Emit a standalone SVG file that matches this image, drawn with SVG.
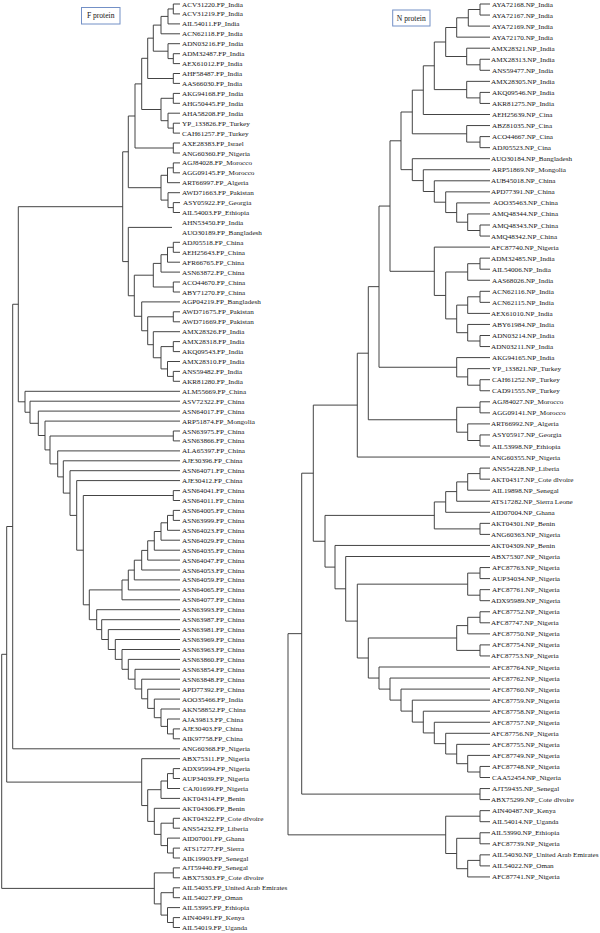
<svg xmlns="http://www.w3.org/2000/svg" width="600" height="933" viewBox="0 0 600 933">
<style>
.e{fill:none;stroke:#3a3a3a;stroke-width:0.95}
text{font-family:"Liberation Serif","Times New Roman",serif;font-size:7.15px;fill:#151515}
.bx{fill:#fff;stroke:#7390c6;stroke-width:1}
.bt{font-size:7.6px;text-anchor:middle}
</style>
<rect width="600" height="933" fill="#fff"/>
<g id="legend-f"><rect class="bx" x="81.5" y="7.5" width="38.5" height="16.5"/><text class="bt" x="100.7" y="18.3">F protein</text></g>
<g id="legend-n"><rect class="bx" x="392.7" y="10" width="37.3" height="16"/><text class="bt" x="411.3" y="20.6">N protein</text></g>
<g id="connectors">
<path class="e" d="M180 4H173.3V13.9H180M173.3 8.95H168V23.9H180M168 16.4H161V33.8H180M180 53.7H173.3V63.6H180M180 43.7H168V58.6H173.3M161 25.1H153.3V51.2H168M180 73.5H173.3V83.4H180M153.3 38.15H147.7V78.5H173.3M180 93.4H173.3V103.3H180M180 123.2H173.3V133.1H180M180 113.2H168V128.1H173.3M173.3 98.3H161V120.7H168M147.7 58.3H141.7V109.5H161M180 143H173.3V153H180M141.7 83.9H135V148H173.3M180 162.9H173.3V172.8H180M173.3 167.85H167.5V182.7H180M180 202.6H173.3V212.5H180M180 192.7H168V207.6H173.3M167.5 175.3H161V200.1H168M135 116H128.3V187.7H161"/>
<path class="e" d="M180 242.3H173.3V252.3H180M173.3 247.3H167.5V262.2H180M167.5 254.7H161V272.1H180M180 282H173.3V292H180M161 263.4H153.3V287H173.3M180 311.8H173.3V321.8H180M180 371.4H173.3V381.3H180M180 361.5H167.5V376.4H173.3M180 341.6H173.3V351.6H180M173.3 346.6H161V368.9H167.5M180 331.7H153.3V357.75H161M173.3 316.8H147.7V344.7H153.3M180 301.9H141.7V330.75H147.7M153.3 275.2H134.3V316.3H141.7M172 227.4H128.3V295.75H134.3M128.3 151.8H122.7V261.6H128.3"/>
<path class="e" d="M180 431H173.3V440.9H180M180 490.6H173.3V500.5H180M180 510.4H173.3V520.4H180M173.3 515.4H167.5V530.3H180M167.5 522.8H161V540.2H180M161 531.5H154.3V550.2H180M154.3 540.8H147.7V560.1H180M147.7 550.4H141.7V570H180M141.7 560.2H134.3V579.9H180M134.3 570.1H128.3V589.9H180M128.3 580H122V599.8H180"/>
<path class="e" d="M180 728.9H173.3V738.8H180M180 719H167.5V733.9H173.3M180 709H161V726.4H167.5M180 699.1H154.3V717.7H161M180 689.2H147.7V708.4H154.3M180 679.2H141.7V698.8H147.7M180 669.3H135V689H141.7M180 659.4H128.3V679.2H135M180 649.5H122V669.3H128.3M180 639.5H115.3V659.4H122M180 629.6H108.3V649.5H115.3M180 619.7H101.7V639.5H108.3M180 609.7H96.7V629.6H101.7"/>
<path class="e" d="M122 589.9H89.3V619.7H96.7M173.3 495.5H83.3V604.8H89.3M180 480.6H76.7V550.2H83.3M180 470.7H70V515.4H76.7M180 460.8H63.3V493.1H70M180 450.9H57.7V476.9H63.3M173.3 436H50V463.9H57.7M180 421.1H45V449.9H50M180 411.1H38.3V435.5H45M180 401.2H30V423.3H38.3M180 391.3H25V412.25H30M122.7 206.7H18.3V401.8H25M18.3 304.25H12.7V748.8H180"/>
<path class="e" d="M180 768.6H173.3V778.5H180M173.3 773.6H167.5V788.5H180M167.5 781H161V798.4H180M180 818.3H173.3V828.2H180M180 848.1H173.3V858H180M180 838.1H167.5V853H173.3M173.3 823.2H161V845.6H167.5M180 808.3H154.3V834.4H161M161 789.7H147.7V821.4H154.3M180 758.7H141.7V805.55H147.7M12.7 526.5H6.7V782.1H141.7M180 867.9H173.3V877.8H180M180 887.8H173.3V897.7H180M180 917.6H173.3V927.5H180M180 907.6H167.5V922.5H173.3M173.3 892.7H161V915.1H167.5M173.3 872.9H154.3V903.9H161M6.7 654.3H1.7V888.4H154.3"/>
<path class="e" d="M490 4H480V15.05H490M480 9.5H468.3V26.1H490M468.3 17.8H456.7V37.15H490M490 59.25H480V70.3H490M490 48.2H466.7V64.8H480M456.7 27.5H445.7V56.5H466.7M490 92.4H480V103.45H490M490 81.35H466.7V97.9H480M445.7 42H434.3V89.6H466.7M434.3 65.8H423.3V114.5H490M490 136.6H480V147.65H490M490 125.55H466.7V142.1H480M423.3 90.15H412.3V133.8H466.7"/>
<path class="e" d="M490 225H480V236.05H490M490 213.95H467.7V230.5H480M490 202.9H456.7V222.2H467.7M490 191.85H445.7V212.55H456.7M490 180.8H434.3V202.2H445.7M490 169.75H423.3V191.5H434.3M490 158.7H412.3V180.6H423.3M412.3 112H401V169.65H412.3"/>
<path class="e" d="M490 258.15H480V269.2H490M480 263.7H467.7V280.25H490M490 291.3H480V302.35H490M480 296.8H467.7V313.4H490M490 335.5H480V346.55H490M490 324.45H467.7V341H480M467.7 305.1H456.7V332.7H467.7M467.7 272H445.7V318.9H456.7M490 247.1H434.3V295.45H445.7M401 140.8H390V271.3H434.3M490 379.7H480V390.75H490M490 368.65H467.7V385.2H480M490 357.6H456.7V376.9H467.7M390 206.05H379V367.25H456.7M490 401.8H480V412.85H490M490 434.95H480V446H490M490 423.9H467.7V440.5H480M480 407.3H456.7V432.2H467.7M379 286.65H368.3V419.75H456.7M368.3 353.2H357.3V457.05H490"/>
<path class="e" d="M490 468.1H480V479.15H490M480 473.6H467.7V490.2H490M467.7 481.9H456.7V501.25H490M456.7 491.6H445.7V512.3H490M490 523.35H480V534.4H490M445.7 501.95H434.3V528.9H480M490 567.55H480V578.6H490M490 589.65H480V600.7H490M480 573.1H467.7V595.2H480M490 611.75H480V622.8H490M480 617.3H467.7V633.85H490M490 644.9H480V655.95H490M467.7 625.6H456.7V650.4H480"/>
<path class="e" d="M490 766.45H480V777.5H490M490 755.4H467.7V772H480M490 744.35H456.7V763.7H467.7M490 733.3H445.7V754H456.7M490 722.25H434.3V743.65H445.7M490 711.2H423.3V732.95H434.3M490 700.15H412.3V722.1H423.3M490 689.1H401V711.1H412.3M490 678.05H390V700.1H401M490 667H379V689.1H390M456.7 638H368.3V678.05H379M467.7 584.15H357.3V658H368.3M490 556.5H345.7V621.1H357.3M490 545.45H335V588.8H345.7M434.3 515.4H325V567.1H335M357.3 405.1H313.3V541.25H325"/>
<path class="e" d="M490 788.55H480V799.6H490M313.3 473.2H301.7V794.1H480M490 810.65H480V821.7H490M490 832.75H480V843.8H490M490 854.85H480V865.9H490M480 860.4H467.7V876.95H490M480 838.3H456.7V868.7H467.7M480 816.2H445.7V853.5H456.7M301.7 633.65H288V834.85H445.7"/>
</g>
<g id="f-leaves">
<g id="f1"><text x="182" y="6.5">ACV31220.FP_India</text></g>
<g id="f2"><text x="182" y="16.4">ACV31219.FP_India</text></g>
<g id="f3"><text x="182" y="26.4">AIL54011.FP_India</text></g>
<g id="f4"><text x="182" y="36.3">ACN62118.FP_India</text></g>
<g id="f5"><text x="182" y="46.2">ADN03216.FP_India</text></g>
<g id="f6"><text x="182" y="56.2">ADM32487.FP_India</text></g>
<g id="f7"><text x="182" y="66.1">AEX61012.FP_India</text></g>
<g id="f8"><text x="182" y="76">AHF58487.FP_India</text></g>
<g id="f9"><text x="182" y="85.9">AAS66030.FP_India</text></g>
<g id="f10"><text x="182" y="95.9">AKG94168.FP_India</text></g>
<g id="f11"><text x="182" y="105.8">AHG50445.FP_India</text></g>
<g id="f12"><text x="182" y="115.7">AHA58208.FP_India</text></g>
<g id="f13"><text x="182" y="125.7">YP_133826.FP_Turkey</text></g>
<g id="f14"><text x="182" y="135.6">CAH61257.FP_Turkey</text></g>
<g id="f15"><text x="182" y="145.5">AXE28383.FP_Israel</text></g>
<g id="f16"><text x="182" y="155.5">ANG60360.FP_Nigeria</text></g>
<g id="f17"><text x="182" y="165.4">AGJ84028.FP_Morocco</text></g>
<g id="f18"><text x="182" y="175.3">AGG09145.FP_Morocco</text></g>
<g id="f19"><text x="182" y="185.2">ART66997.FP_Algeria</text></g>
<g id="f20"><text x="182" y="195.2">AWD71663.FP_Pakistan</text></g>
<g id="f21"><text x="183" y="205.1">ASY05922.FP_Georgia</text></g>
<g id="f22"><text x="182" y="215">AIL54003.FP_Ethiopia</text></g>
<g id="f23"><text x="182" y="225">AHN53450.FP_India</text></g>
<g id="f24"><text x="182" y="234.9">AUO30189.FP_Bangladesh</text></g>
<g id="f25"><text x="182" y="244.8">ADJ05518.FP_China</text></g>
<g id="f26"><text x="182" y="254.8">AEH25643.FP_China</text></g>
<g id="f27"><text x="182" y="264.7">AFR66765.FP_China</text></g>
<g id="f28"><text x="182" y="274.6">ASN63872.FP_China</text></g>
<g id="f29"><text x="182" y="284.5">ACO44670.FP_China</text></g>
<g id="f30"><text x="182" y="294.5">ABY71270.FP_China</text></g>
<g id="f31"><text x="182" y="304.4">AGP04219.FP_Bangladesh</text></g>
<g id="f32"><text x="182" y="314.3">AWD71675.FP_Pakistan</text></g>
<g id="f33"><text x="182" y="324.3">AWD71669.FP_Pakistan</text></g>
<g id="f34"><text x="182" y="334.2">AMX28326.FP_India</text></g>
<g id="f35"><text x="182" y="344.1">AMX28318.FP_India</text></g>
<g id="f36"><text x="182" y="354.1">AKQ09543.FP_India</text></g>
<g id="f37"><text x="182" y="364">AMX28310.FP_India</text></g>
<g id="f38"><text x="182" y="373.9">ANS59482.FP_India</text></g>
<g id="f39"><text x="182" y="383.8">AKR81280.FP_India</text></g>
<g id="f40"><text x="182" y="393.8">ALM55669.FP_China</text></g>
<g id="f41"><text x="182" y="403.7">ASV72322.FP_China</text></g>
<g id="f42"><text x="182" y="413.6">ASN64017.FP_China</text></g>
<g id="f43"><text x="182" y="423.6">ARP51874.FP_Mongolia</text></g>
<g id="f44"><text x="182" y="433.5">ASN63975.FP_China</text></g>
<g id="f45"><text x="182" y="443.4">ASN63866.FP_China</text></g>
<g id="f46"><text x="182" y="453.4">ALA65397.FP_China</text></g>
<g id="f47"><text x="182" y="463.3">AJE30396.FP_China</text></g>
<g id="f48"><text x="182" y="473.2">ASN64071.FP_China</text></g>
<g id="f49"><text x="182" y="483.1">AJE30412.FP_China</text></g>
<g id="f50"><text x="182" y="493.1">ASN64041.FP_China</text></g>
<g id="f51"><text x="182" y="503">ASN64011.FP_China</text></g>
<g id="f52"><text x="182" y="512.9">ASN64005.FP_China</text></g>
<g id="f53"><text x="182" y="522.9">ASN63999.FP_China</text></g>
<g id="f54"><text x="182" y="532.8">ASN64023.FP_China</text></g>
<g id="f55"><text x="182" y="542.7">ASN64029.FP_China</text></g>
<g id="f56"><text x="182" y="552.7">ASN64035.FP_China</text></g>
<g id="f57"><text x="182" y="562.6">ASN64047.FP_China</text></g>
<g id="f58"><text x="182" y="572.5">ASN64053.FP_China</text></g>
<g id="f59"><text x="182" y="582.4">ASN64059.FP_China</text></g>
<g id="f60"><text x="182" y="592.4">ASN64065.FP_China</text></g>
<g id="f61"><text x="182" y="602.3">ASN64077.FP_China</text></g>
<g id="f62"><text x="182" y="612.2">ASN63993.FP_China</text></g>
<g id="f63"><text x="182" y="622.2">ASN63987.FP_China</text></g>
<g id="f64"><text x="182" y="632.1">ASN63981.FP_China</text></g>
<g id="f65"><text x="182" y="642">ASN63969.FP_China</text></g>
<g id="f66"><text x="182" y="652">ASN63963.FP_China</text></g>
<g id="f67"><text x="182" y="661.9">ASN63860.FP_China</text></g>
<g id="f68"><text x="182" y="671.8">ASN63854.FP_China</text></g>
<g id="f69"><text x="182" y="681.7">ASN63848.FP_China</text></g>
<g id="f70"><text x="182" y="691.7">APD77392.FP_China</text></g>
<g id="f71"><text x="182" y="701.6">AOO35466.FP_India</text></g>
<g id="f72"><text x="182" y="711.5">AKN58852.FP_China</text></g>
<g id="f73"><text x="182" y="721.5">AJA39813.FP_China</text></g>
<g id="f74"><text x="182" y="731.4">AJE30403.FP_China</text></g>
<g id="f75"><text x="182" y="741.3">AIK97758.FP_China</text></g>
<g id="f76"><text x="182" y="751.3">ANG60368.FP_Nigeria</text></g>
<g id="f77"><text x="182" y="761.2">ABX75311.FP_Nigeria</text></g>
<g id="f78"><text x="182" y="771.1">ADX95994.FP_Nigeria</text></g>
<g id="f79"><text x="182" y="781">AUP34039.FP_Nigeria</text></g>
<g id="f80"><text x="183" y="791">CAJ01699.FP_Nigeria</text></g>
<g id="f81"><text x="182" y="800.9">AKT04314.FP_Benin</text></g>
<g id="f82"><text x="182" y="810.8">AKT04306.FP_Benin</text></g>
<g id="f83"><text x="182" y="820.8">AKT04322.FP_Cote dlvoire</text></g>
<g id="f84"><text x="182" y="830.7">ANS54232.FP_Liberia</text></g>
<g id="f85"><text x="182" y="840.6">AID07001.FP_Ghana</text></g>
<g id="f86"><text x="183" y="850.6">ATS17277.FP_Sierra</text></g>
<g id="f87"><text x="182" y="860.5">AIK19903.FP_Senegal</text></g>
<g id="f88"><text x="182" y="870.4">AJT59440.FP_Senegal</text></g>
<g id="f89"><text x="182" y="880.3">ABX75303.FP_Cote dlvoire</text></g>
<g id="f90"><text x="182" y="890.3">AIL54035.FP_United Arab Emirates</text></g>
<g id="f91"><text x="182" y="900.2">AIL54027.FP_Oman</text></g>
<g id="f92"><text x="182" y="910.1">AIL53995.FP_Ethiopia</text></g>
<g id="f93"><text x="182" y="920.1">AIN40491.FP_Kenya</text></g>
<g id="f94"><text x="182" y="930">AIL54019.FP_Uganda</text></g>
</g>
<g id="n-leaves">
<g id="n1"><text x="492" y="6.5">AYA72168.NP_India</text></g>
<g id="n2"><text x="492" y="17.55">AYA72167.NP_India</text></g>
<g id="n3"><text x="492" y="28.6">AYA72169.NP_India</text></g>
<g id="n4"><text x="492" y="39.65">AYA72170.NP_India</text></g>
<g id="n5"><text x="491" y="50.7">AMX28321.NP_India</text></g>
<g id="n6"><text x="491" y="61.75">AMX28313.NP_India</text></g>
<g id="n7"><text x="492" y="72.8">ANS59477.NP_India</text></g>
<g id="n8"><text x="491" y="83.85">AMX28305.NP_India</text></g>
<g id="n9"><text x="492" y="94.9">AKQ09546.NP_India</text></g>
<g id="n10"><text x="492" y="105.95">AKR81275.NP_India</text></g>
<g id="n11"><text x="492" y="117">AEH25639.NP_Cina</text></g>
<g id="n12"><text x="492" y="128.05">ABZ81035.NP_Cina</text></g>
<g id="n13"><text x="492" y="139.1">ACO44667.NP_Cina</text></g>
<g id="n14"><text x="492" y="150.15">ADJ05523.NP_Cina</text></g>
<g id="n15"><text x="491" y="161.2">AUO30184.NP_Bangladesh</text></g>
<g id="n16"><text x="492" y="172.25">ARP51869.NP_Mongolia</text></g>
<g id="n17"><text x="491" y="183.3">AUB45018.NP_China</text></g>
<g id="n18"><text x="491" y="194.35">APD77391.NP_China</text></g>
<g id="n19"><text x="493" y="205.4">AOO35463.NP_China</text></g>
<g id="n20"><text x="492" y="216.45">AMQ48344.NP_China</text></g>
<g id="n21"><text x="492" y="227.5">AMQ48343.NP_China</text></g>
<g id="n22"><text x="491" y="238.55">AMQ48342.NP_China</text></g>
<g id="n23"><text x="491" y="249.6">AFC87740.NP_Nigeria</text></g>
<g id="n24"><text x="491" y="260.65">ADM32485.NP_India</text></g>
<g id="n25"><text x="492" y="271.7">AIL54006.NP_India</text></g>
<g id="n26"><text x="492" y="282.75">AAS68026.NP_India</text></g>
<g id="n27"><text x="492" y="293.8">ACN62116.NP_India</text></g>
<g id="n28"><text x="492" y="304.85">ACN62115.NP_India</text></g>
<g id="n29"><text x="491" y="315.9">AEX61010.NP_India</text></g>
<g id="n30"><text x="492" y="326.95">ABY61984.NP_India</text></g>
<g id="n31"><text x="492" y="338">ADN03214.NP_India</text></g>
<g id="n32"><text x="491" y="349.05">ADN03211.NP_India</text></g>
<g id="n33"><text x="492" y="360.1">AKG94165.NP_India</text></g>
<g id="n34"><text x="492" y="371.15">YP_133821.NP_Turkey</text></g>
<g id="n35"><text x="492" y="382.2">CAH61252.NP_Turkey</text></g>
<g id="n36"><text x="492" y="393.25">CAD91555.NP_Turkey</text></g>
<g id="n37"><text x="492" y="404.3">AGJ84027.NP_Morocco</text></g>
<g id="n38"><text x="492" y="415.35">AGG09141.NP_Morocco</text></g>
<g id="n39"><text x="491" y="426.4">ART66992.NP_Algeria</text></g>
<g id="n40"><text x="492" y="437.45">ASY05917.NP_Georgia</text></g>
<g id="n41"><text x="492" y="448.5">AIL53998.NP_Ethiopia</text></g>
<g id="n42"><text x="491" y="459.55">ANG60355.NP_Nigeria</text></g>
<g id="n43"><text x="492" y="470.6">ANS54228.NP_Liberia</text></g>
<g id="n44"><text x="491" y="481.65">AKT04317.NP_Cote dlvoire</text></g>
<g id="n45"><text x="492" y="492.7">AIL19898.NP_Senegal</text></g>
<g id="n46"><text x="491" y="503.75">ATS17282.NP_Sierra Leone</text></g>
<g id="n47"><text x="491" y="514.8">AID07004.NP_Ghana</text></g>
<g id="n48"><text x="491" y="525.85">AKT04301.NP_Benin</text></g>
<g id="n49"><text x="491" y="536.9">ANG60363.NP_Nigeria</text></g>
<g id="n50"><text x="491" y="547.95">AKT04309.NP_Benin</text></g>
<g id="n51"><text x="491" y="559">ABX75307.NP_Nigeria</text></g>
<g id="n52"><text x="492" y="570.05">AFC87763.NP_Nigeria</text></g>
<g id="n53"><text x="492" y="581.1">AUP34034.NP_Nigeria</text></g>
<g id="n54"><text x="492" y="592.15">AFC87761.NP_Nigeria</text></g>
<g id="n55"><text x="491" y="603.2">ADX95989.NP_Nigeria</text></g>
<g id="n56"><text x="492" y="614.25">AFC87752.NP_Nigeria</text></g>
<g id="n57"><text x="491" y="625.3">AFC87747.NP_Nigeria</text></g>
<g id="n58"><text x="492" y="636.35">AFC87750.NP_Nigeria</text></g>
<g id="n59"><text x="492" y="647.4">AFC87754.NP_Nigeria</text></g>
<g id="n60"><text x="491" y="658.45">AFC87753.NP_Nigeria</text></g>
<g id="n61"><text x="492" y="669.5">AFC87764.NP_Nigeria</text></g>
<g id="n62"><text x="492" y="680.55">AFC87762.NP_Nigeria</text></g>
<g id="n63"><text x="492" y="691.6">AFC87760.NP_Nigeria</text></g>
<g id="n64"><text x="492" y="702.65">AFC87759.NP_Nigeria</text></g>
<g id="n65"><text x="492" y="713.7">AFC87758.NP_Nigeria</text></g>
<g id="n66"><text x="492" y="724.75">AFC87757.NP_Nigeria</text></g>
<g id="n67"><text x="491" y="735.8">AFC87756.NP_Nigeria</text></g>
<g id="n68"><text x="492" y="746.85">AFC87755.NP_Nigeria</text></g>
<g id="n69"><text x="492" y="757.9">AFC87749.NP_Nigeria</text></g>
<g id="n70"><text x="492" y="768.95">AFC87748.NP_Nigeria</text></g>
<g id="n71"><text x="492" y="780">CAA52454.NP_Nigeria</text></g>
<g id="n72"><text x="492" y="791.05">AJT59435.NP_Senegal</text></g>
<g id="n73"><text x="491" y="802.1">ABX75299.NP_Cote dlvoire</text></g>
<g id="n74"><text x="492" y="813.15">AIN40487.NP_Kenya</text></g>
<g id="n75"><text x="492" y="824.2">AIL54014.NP_Uganda</text></g>
<g id="n76"><text x="491" y="835.25">AIL53990.NP_Ethiopia</text></g>
<g id="n77"><text x="492" y="846.3">AFC87739.NP_Nigeria</text></g>
<g id="n78"><text x="492" y="857.35">AIL54030.NP_United Arab Emirates</text></g>
<g id="n79"><text x="492" y="868.4">AIL54022.NP_Oman</text></g>
<g id="n80"><text x="492" y="879.45">AFC87741.NP_Nigeria</text></g>
</g>
</svg>
